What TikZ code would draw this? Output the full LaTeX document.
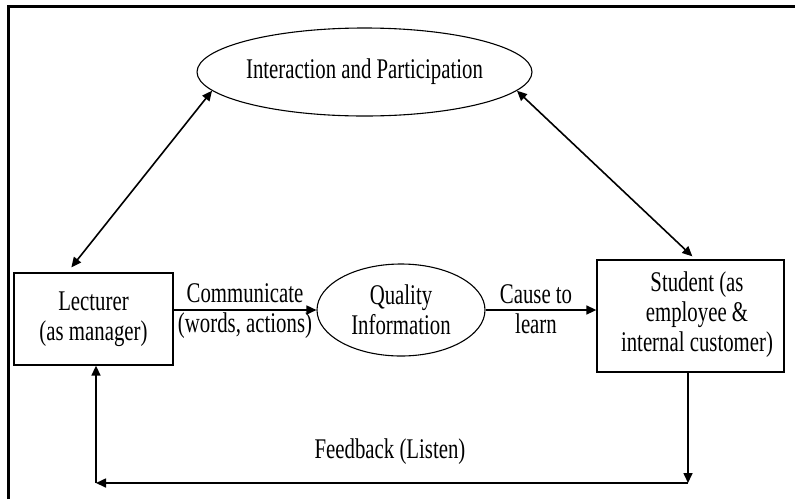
\documentclass[tikz,border=0pt]{standalone}
\usepackage{fontspec}
\setmainfont{Liberation Serif}[FakeStretch=0.73]
\usetikzlibrary{shapes.geometric,arrows.meta}

\tikzset{
  txt/.style={font=\fontsize{28.5}{30}\selectfont, align=center, inner sep=0pt},
  oval/.style={ellipse, draw, line width=1.1pt, inner sep=0pt, txt},
  panel/.style={rectangle, draw, line width=1.3pt, inner sep=0pt, txt},
  arr/.style={line width=1.6pt, -{Triangle[length=10pt,width=9pt]}},
  biarr/.style={line width=1.6pt, {Triangle[length=10pt,width=9pt]}-{Triangle[length=10pt,width=9pt]}},
  frame/.style={line width=3.5pt}
}

\begin{document}
\begin{tikzpicture}[x=1pt,y=-1pt]
\useasboundingbox (0,0) rectangle (795,499);

% page frame (top and left rules)
\draw[frame] (8.5,499) -- (8.5,6.5) -- (795,6.5);

% nodes
\node[oval, minimum width=305pt, minimum height=88pt] (inter) at (364.5,72) {Interaction and Participation};
\node[oval, minimum width=168pt, minimum height=92pt] (qual) at (401,310) {Quality\\Information};
\node[panel, minimum width=159pt, minimum height=92pt] (lect) at (93.5,319) {Lecturer\\(as manager)};
\node[panel, minimum width=187pt, minimum height=112pt] (stu) at (690.5,316) {};
\node[txt] (stutext) at (697,315) {Student (as\\employee \&\\internal customer)};

% labels on the flow arrows
\node[txt] (comm) at (245,311) {Communicate\\(words, actions)};
\node[txt] (cause) at (536,309) {Cause to\\learn};
\node[txt] (feed) at (390,452) {Feedback (Listen)};

% main flow
\draw[arr] (lect.east |- qual.west) -- (qual.west);
\draw[arr] (qual.east) -- (qual.east -| stu.west);

% interaction links
\draw[biarr] (inter.187) -- ([xshift=58pt,yshift=5pt]lect.north west);
\draw[biarr] (inter.353) -- ([xshift=96pt,yshift=3pt]stu.north west);

% feedback loop
\coordinate (fbR) at (688,483);
\coordinate (fbL) at (96,483);
\draw[arr] (fbR |- stu.south) -- (fbR);
\draw[arr] (fbR) -- (fbL);
\draw[arr] (fbL) -- (fbL |- lect.south);
\end{tikzpicture}
\end{document}
